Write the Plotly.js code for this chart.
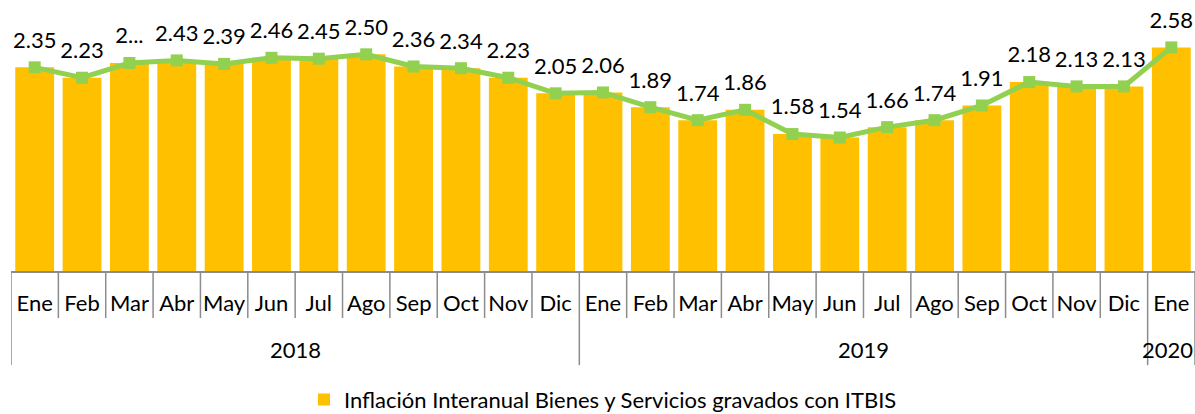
<!DOCTYPE html>
<html>
<head>
<meta charset="utf-8">
<script src="https://cdn.plot.ly/plotly-3.0.1.min.js"></script>
<style>html,body{margin:0;padding:0;background:#fff;}#chart{width:1195px;height:414px;}</style>
</head>
<body>
<div id="chart"></div>
<script>
const months = ['Ene','Feb','Mar','Abr','May','Jun','Jul','Ago','Sep','Oct','Nov','Dic',
                'Ene','Feb','Mar','Abr','May','Jun','Jul','Ago','Sep','Oct','Nov','Dic','Ene'];
const yearOf = ['2018','2018','2018','2018','2018','2018','2018','2018','2018','2018','2018','2018',
                '2019','2019','2019','2019','2019','2019','2019','2019','2019','2019','2019','2019','2020'];
const values = [2.35, 2.23, 2.40, 2.43, 2.39, 2.46, 2.45, 2.50, 2.36, 2.34, 2.23, 2.05,
                2.06, 1.89, 1.74, 1.86, 1.58, 1.54, 1.66, 1.74, 1.91, 2.18, 2.13, 2.13, 2.58];
const labelText = ['2.35','2.23','2...','2.43','2.39','2.46','2.45','2.50','2.36','2.34','2.23','2.05',
                   '2.06','1.89','1.74','1.86','1.58','1.54','1.66','1.74','1.91','2.18','2.13','2.13','2.58'];
const seriesName = 'Inflación Interanual Bienes y Servicios gravados con ITBIS';

const idx = months.map((m, i) => i);
const FONT = 'Lato, "Open Sans", sans-serif';
const GRID = '#8c8c8c';

// year groups
const groups = [];
yearOf.forEach((y, i) => {
  const g = groups[groups.length - 1];
  if (g && g.year === y) g.end = i; else groups.push({year: y, start: i, end: i});
});

const shapes = [];
idx.concat([idx.length]).forEach(i => {
  const isYearEdge = groups.some(g => g.start === i) || i === idx.length;
  shapes.push({type: 'line', xref: 'x', yref: 'paper', x0: i - 0.5, x1: i - 0.5,
    y0: 0, y1: isYearEdge ? -0.362 : -0.181, line: {color: GRID, width: 1.5}});
});
const annotations = groups.map(g => ({
  xref: 'x', yref: 'paper', x: (g.start + g.end) / 2, y: -0.30, text: g.year,
  showarrow: false, xanchor: 'center', yanchor: 'middle',
  xshift: g.end === idx.length - 1 ? -4 : 0,
  font: {family: FONT, size: 22, color: '#000'}
}));

const traces = [
  {type: 'bar', x: idx, y: values, name: seriesName,
   marker: {color: '#FFC000'}, hoverinfo: 'skip'},
  {type: 'scatter', mode: 'lines+markers', x: idx, y: values, showlegend: false,
   line: {color: '#92D050', width: 5}, marker: {symbol: 'square', size: 12, color: '#92D050'},
   hoverinfo: 'skip'},
  {type: 'scatter', mode: 'markers+text', x: idx, y: values, text: labelText,
   textposition: 'top center', showlegend: false, cliponaxis: false,
   marker: {size: 21, color: 'rgba(0,0,0,0)'},
   textfont: {family: FONT, size: 22, color: '#000'}, hoverinfo: 'skip'}
];

const layout = {
  width: 1195, height: 414,
  margin: {l: 11, r: 0, t: 11, b: 143, autoexpand: false},
  paper_bgcolor: '#fff', plot_bgcolor: '#fff',
  bargap: 0.18,
  showlegend: true,
  legend: {orientation: 'h', x: 0.5, xanchor: 'center', y: -0.495, yanchor: 'middle',
           font: {family: FONT, size: 22, color: '#000'}},
  xaxis: {range: [-0.5, idx.length - 0.5], tickvals: idx, ticktext: months,
          ticks: '', showgrid: false, zeroline: false, showline: true,
          linecolor: GRID, linewidth: 1.5, ticklabelstandoff: 12,
          tickfont: {family: FONT, size: 22, color: '#000'}, fixedrange: true},
  yaxis: {range: [0, 3.0], visible: false, fixedrange: true},
  shapes: shapes,
  annotations: annotations
};

Plotly.newPlot('chart', traces, layout, {displayModeBar: false, staticPlot: true});
</script>
</body>
</html>
